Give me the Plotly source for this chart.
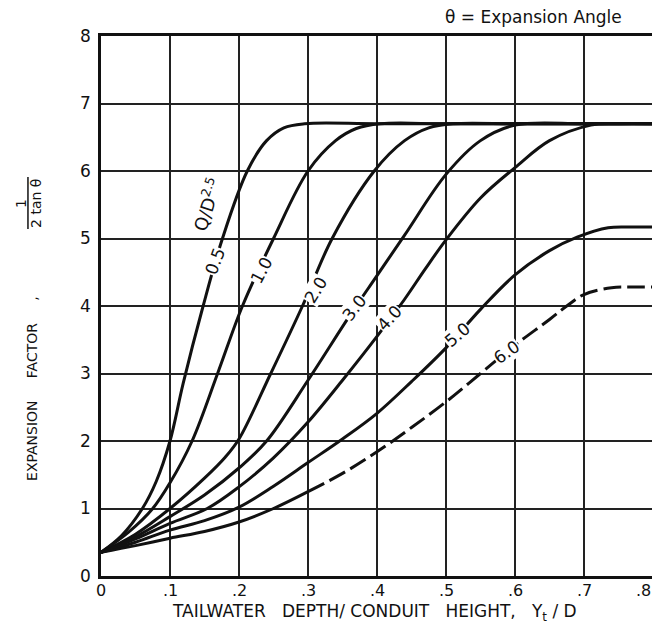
import plotly.graph_objects as go

# ---------------- data ----------------
x_tick_vals = [0, 0.1, 0.2, 0.3, 0.4, 0.5, 0.6, 0.7, 0.8]
x_tick_text = ["0", ".1", ".2", ".3", ".4", ".5", ".6", ".7", ".8"]
y_tick_vals = [0, 1, 2, 3, 4, 5, 6, 7, 8]
y_tick_text = ["0", "1", "2", "3", "4", "5", "6", "7", "8"]

q05_x = [0, 0.03, 0.06, 0.08, 0.1, 0.119, 0.148, 0.176, 0.212, 0.24, 0.265, 0.295, 0.4, 0.6, 0.8]
q05_y = [0.35, 0.6, 1.0, 1.4, 2.0, 2.85, 4.0, 5.0, 6.0, 6.45, 6.64, 6.7, 6.7, 6.7, 6.7]

q10_x = [0, 0.04, 0.075, 0.1, 0.132, 0.169, 0.205, 0.25, 0.30, 0.34, 0.37, 0.405, 0.5, 0.65, 0.8]
q10_y = [0.35, 0.65, 1.0, 1.38, 2.0, 3.0, 4.0, 5.0, 6.0, 6.45, 6.63, 6.7, 6.7, 6.7, 6.7]

q20_x = [0, 0.05, 0.1, 0.15, 0.18, 0.2, 0.246, 0.292, 0.335, 0.396, 0.44, 0.475, 0.51, 0.6, 0.7, 0.8]
q20_y = [0.35, 0.62, 1.0, 1.45, 1.76, 2.03, 3.0, 4.0, 5.0, 6.0, 6.45, 6.64, 6.7, 6.7, 6.7, 6.7]

q30_x = [0, 0.05, 0.1, 0.15, 0.2, 0.24, 0.3, 0.36, 0.4, 0.44, 0.5, 0.55, 0.6, 0.7, 0.8]
q30_y = [0.35, 0.58, 0.88, 1.2, 1.6, 2.0, 2.9, 3.85, 4.45, 5.05, 5.95, 6.45, 6.68, 6.7, 6.7]

q40_x = [0, 0.05, 0.1, 0.154, 0.2, 0.25, 0.3, 0.35, 0.4, 0.44, 0.47, 0.5, 0.55, 0.6, 0.65, 0.71, 0.75, 0.8]
q40_y = [0.35, 0.55, 0.78, 1.0, 1.32, 1.75, 2.28, 2.9, 3.55, 4.1, 4.55, 4.98, 5.6, 6.05, 6.45, 6.68, 6.7, 6.7]

q50_x = [0, 0.05, 0.1, 0.15, 0.2, 0.25, 0.3, 0.35, 0.4, 0.45, 0.5, 0.55, 0.6, 0.65, 0.69, 0.735, 0.77, 0.8]
q50_y = [0.35, 0.5, 0.68, 0.82, 1.02, 1.33, 1.68, 2.03, 2.41, 2.88, 3.38, 3.95, 4.46, 4.82, 5.02, 5.16, 5.17, 5.17]

q60_solid_x = [0, 0.05, 0.1, 0.15, 0.2, 0.25, 0.3]
q60_solid_y = [0.35, 0.45, 0.56, 0.66, 0.8, 1.0, 1.25]
q60_dash_x = [0.3, 0.35, 0.4, 0.45, 0.5, 0.55, 0.6, 0.65, 0.675, 0.7, 0.74, 0.77, 0.8]
q60_dash_y = [1.25, 1.52, 1.84, 2.2, 2.58, 3.0, 3.42, 3.8, 4.0, 4.17, 4.27, 4.28, 4.28]

curve_labels = ["0.5", "1.0", "2.0", "3.0", "4.0", "5.0", "6.0"]
label_x = [0.166, 0.233, 0.311, 0.367, 0.418, 0.516, 0.588]
label_y = [4.66, 4.53, 4.24, 3.97, 3.82, 3.57, 3.32]
label_angle = [-70, -62, -58, -52, -48, -40, -35]

# ---------------- figure ----------------
FONT = "DejaVu Sans"
INK = "#111111"
NB = "\u00a0"

OFF = 8  # page offset of the plot div (browser body margin)
fig_w, fig_h = 660 - OFF, 638 - OFF
# target plot area on page: x 101..652.7, y 36..576
ml = 101 - OFF
mt = 36 - OFF
mr = fig_w - (652.7 - OFF)
mb = fig_h - (576 - OFF)
pw, ph = fig_w - ml - mr, fig_h - mt - mb


def px2paper(px, py):
    """page pixel -> paper coords"""
    return (px - OFF - ml) / pw, (fig_h - mb - (py - OFF)) / ph


fig = go.Figure()

solid_curves = [(q05_x, q05_y), (q10_x, q10_y), (q20_x, q20_y), (q30_x, q30_y),
                (q40_x, q40_y), (q50_x, q50_y), (q60_solid_x, q60_solid_y)]
for cx, cy in solid_curves:
    fig.add_trace(go.Scatter(x=cx, y=cy, mode="lines",
                             line=dict(color=INK, width=3, shape="spline", smoothing=1.0),
                             showlegend=False, hoverinfo="skip"))
fig.add_trace(go.Scatter(x=q60_dash_x, y=q60_dash_y, mode="lines",
                         line=dict(color=INK, width=3, shape="spline", smoothing=1.0,
                                   dash="18px,6px"),
                         showlegend=False, hoverinfo="skip"))

annotations = []
for txt, lx, ly, ang in zip(curve_labels, label_x, label_y, label_angle):
    annotations.append(dict(x=lx, y=ly, xref="x", yref="y", text=txt, showarrow=False,
                            textangle=ang, bgcolor="white", borderpad=0,
                            xanchor="center", yanchor="middle",
                            font=dict(family=FONT, size=17, color=INK)))
annotations.append(dict(x=0.153, y=5.5, xref="x", yref="y", text="Q/D<sup>2.5</sup>",
                        showarrow=False, textangle=-72, xanchor="center", yanchor="middle",
                        font=dict(family=FONT, size=18, color=INK)))

# x tick labels (drawn as annotations so the last one stays inside the page)
_, tick_y = px2paper(0, 590)
for i, (tv, tt) in enumerate(zip(x_tick_vals, x_tick_text)):
    last = i == len(x_tick_vals) - 1
    annotations.append(dict(x=tv, y=tick_y, xref="x", yref="paper", text=tt,
                            showarrow=False, xanchor="right" if last else "center",
                            xshift=0 if not last else 0,
                            yanchor="middle",
                            font=dict(family=FONT, size=16, color=INK)))

# top-right note
nx, ny = px2paper(533, 17)
annotations.append(dict(x=nx, y=ny, xref="paper", yref="paper", text="θ = Expansion Angle",
                        showarrow=False, xanchor="center", yanchor="middle",
                        font=dict(family=FONT, size=17, color=INK)))

# y-axis title: words + fraction
tx, ty = px2paper(32, 388)
annotations.append(dict(x=tx, y=ty, xref="paper", yref="paper",
                        text="EXPANSION" + NB * 5 + "FACTOR" + NB * 5 + ",",
                        showarrow=False, textangle=-90,
                        xanchor="center", yanchor="middle",
                        font=dict(family=FONT, size=14, color=INK)))
fx1, fy1 = px2paper(21, 203)
annotations.append(dict(x=fx1, y=fy1, xref="paper", yref="paper", text="1",
                        showarrow=False, textangle=-90, xanchor="center", yanchor="middle",
                        font=dict(family=FONT, size=14, color=INK)))
fx2, fy2 = px2paper(36, 203)
annotations.append(dict(x=fx2, y=fy2, xref="paper", yref="paper", text="2" + NB + "tan" + NB + "θ",
                        showarrow=False, textangle=-90, xanchor="center", yanchor="middle",
                        font=dict(family=FONT, size=14, color=INK)))
# x-axis title
xx, xy = px2paper(374, 612)
annotations.append(dict(x=xx, y=xy, xref="paper", yref="paper",
                        text="TAILWATER" + NB * 3 + "DEPTH/" + NB + "CONDUIT" + NB * 3 +
                             "HEIGHT," + NB * 3 + "Y<sub>t</sub>" + NB + "/" + NB + "D",
                        showarrow=False, xanchor="center", yanchor="middle",
                        font=dict(family=FONT, size=17, color=INK)))

lx0, ly0 = px2paper(28, 177)
lx1, ly1 = px2paper(28, 229)
shapes = [dict(type="line", xref="paper", yref="paper", x0=lx0, y0=ly0, x1=lx1, y1=ly1,
               line=dict(color=INK, width=1.5))]

fig.update_layout(
    width=fig_w, height=fig_h, autosize=False,
    margin=dict(l=ml, r=mr, t=mt, b=mb),
    paper_bgcolor="white", plot_bgcolor="white",
    font=dict(family=FONT, color=INK),
    annotations=annotations, shapes=shapes,
    xaxis=dict(range=[0, 0.8], tickvals=x_tick_vals, showticklabels=False,
               showgrid=True, gridcolor="#222222", gridwidth=1.5,
               showline=True, linecolor=INK, linewidth=2.5, mirror=True,
               zeroline=False, ticks="", ticklen=0, automargin=False),
    yaxis=dict(range=[0, 8], tickvals=y_tick_vals, ticktext=y_tick_text,
               showgrid=True, gridcolor="#222222", gridwidth=1.5,
               showline=True, linecolor=INK, linewidth=2.5, mirror=True,
               zeroline=False, ticks="", ticklen=0, ticklabelstandoff=4, automargin=False,
               tickfont=dict(family=FONT, size=17, color=INK)),
)

fig.write_html("out.html")
